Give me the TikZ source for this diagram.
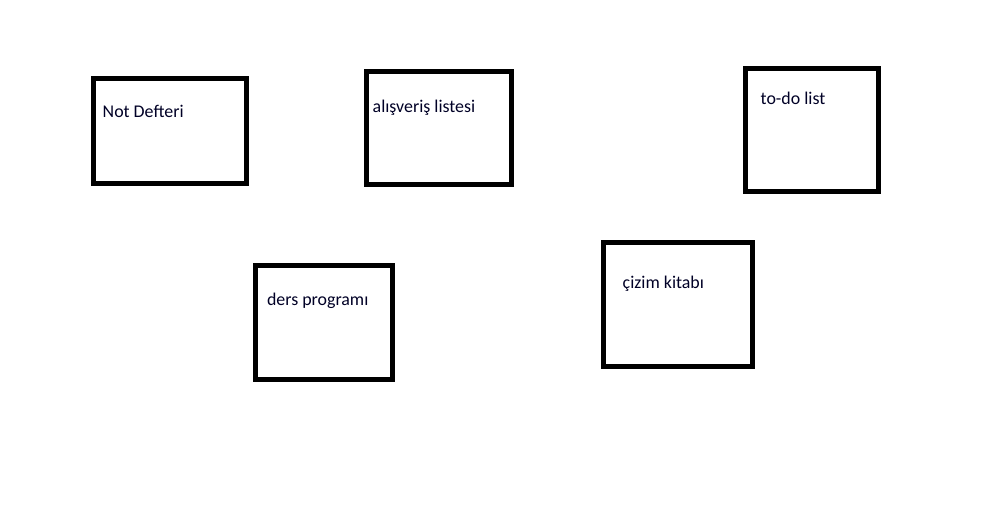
\documentclass[tikz,border=0pt]{standalone}
\usepackage{fontspec}
\setmainfont{Carlito}
\begin{document}
\begin{tikzpicture}[x=1pt,y=1pt,
  box/.style={draw=black, line width=5pt, fill=white, inner sep=0pt, outer sep=0pt},
  lbl/.style={anchor=base west, inner sep=0pt, outer sep=0pt, font=\fontsize{17.9}{20}\selectfont, text=black!85!blue}]
\useasboundingbox[fill=white] (0,0) rectangle (984,515);
% boxes: center x, center y (flipped), width, height
\node[box, minimum width=153pt, minimum height=104.5pt] (b1) at (170,384.25) {};
\node[box, minimum width=145pt, minimum height=113pt] (b2) at (439,387) {};
\node[box, minimum width=133pt, minimum height=123pt] (b3) at (812,385) {};
\node[box, minimum width=137pt, minimum height=113.2pt] (b4) at (323.5,192.6) {};
\node[box, minimum width=148.5pt, minimum height=124.3pt] (b5) at (677.75,210.35) {};
% labels
\node[lbl] (t1) at (102.7,397.7) {Not Defteri};
\node[lbl] (t2) at (372.7,402) {alışveriş listesi};
\node[lbl] (t3) at (760.7,410) {to-do list};
\node[lbl] (t4) at (267,209.7) {ders programı};
\node[lbl] (t5) at (622.7,226.7) {çizim kitabı};
\end{tikzpicture}
\end{document}
